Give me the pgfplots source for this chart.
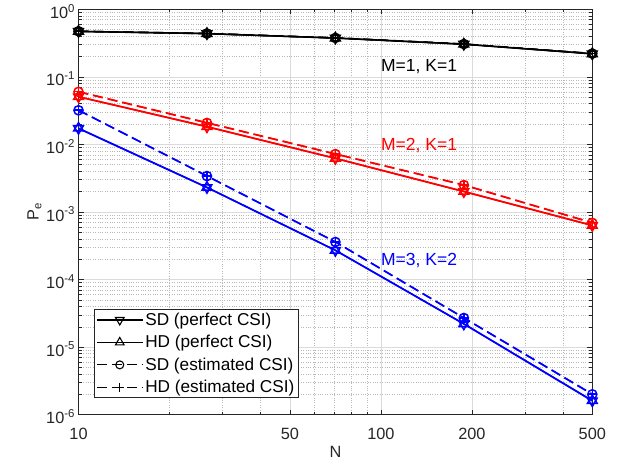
\documentclass[border=0pt]{standalone}
\usepackage{pgfplots}
\pgfplotsset{compat=1.18}
\usepackage{fontspec}
\setmainfont{Liberation Sans}
\definecolor{axgray}{HTML}{262626}
\definecolor{mblue}{RGB}{0,0,255}
\definecolor{mred}{RGB}{255,0,0}
\newcommand\ff{\fontsize{16.3bp}{19bp}\selectfont}
\newcommand\fl{\fontsize{17.2bp}{19bp}\selectfont}
\newcommand\fa{\fontsize{17.5bp}{20bp}\selectfont}

% N values (log-spaced)
\pgfplotstableread{
N       blkSDp blkHDp blkSDe blkHDe  redSDp redHDp redSDe redHDe  bluSDp bluHDp bluSDe bluHDe
10      0.470  0.472  0.473  0.474   0.0506 0.0510 0.0600 0.0605  0.0172 0.0174 0.0320 0.0322
26.59   0.436  0.437  0.438  0.439   0.0182 0.0184 0.0208 0.0210  0.00230 0.00232 0.00340 0.00342
70.71   0.375  0.376  0.377  0.378   0.00620 0.00625 0.00720 0.00725  0.000270 0.000272 0.000360 0.000362
188.03  0.304  0.305  0.306  0.307   0.00200 0.00202 0.00250 0.00252  0.0000220 0.0000222 0.0000270 0.0000272
500     0.219  0.220  0.221  0.222   0.000630 0.000635 0.000690 0.000695  0.00000160 0.00000162 0.00000200 0.00000202
}\data

\pgfplotsset{
  sdp/.style={solid, mark=triangle, mark size=5.6bp, mark options={solid, rotate=180}},
  hdp/.style={solid, mark=triangle, mark size=5.6bp, mark options={solid}},
  sde/.style={dash pattern=on 10bp off 5bp, mark=o, mark size=4.6bp, mark options={solid}},
  hde/.style={dash pattern=on 10bp off 5bp, mark=+, mark size=4.8bp, mark options={solid}},
}

\begin{document}
\begin{tikzpicture}
\begin{axis}[
  scale only axis,
  width=513.8bp, height=405.4bp,
  xmode=log, ymode=log,
  xmin=10, xmax=500, ymin=1e-6, ymax=1,
  xtick={10,50,100,200,500},
  xticklabels={10,50,100,200,500},
  minor xtick={20,30,40,60,70,80,90,300,400},
  ytick={1e-6,1e-5,1e-4,1e-3,1e-2,1e-1,1},
  yticklabels={10\textsuperscript{-6},10\textsuperscript{-5},10\textsuperscript{-4},10\textsuperscript{-3},10\textsuperscript{-2},10\textsuperscript{-1},10\textsuperscript{0}},
  minor ytick={2e-6,3e-6,4e-6,5e-6,6e-6,7e-6,8e-6,9e-6,
               2e-5,3e-5,4e-5,5e-5,6e-5,7e-5,8e-5,9e-5,
               2e-4,3e-4,4e-4,5e-4,6e-4,7e-4,8e-4,9e-4,
               2e-3,3e-3,4e-3,5e-3,6e-3,7e-3,8e-3,9e-3,
               2e-2,3e-2,4e-2,5e-2,6e-2,7e-2,8e-2,9e-2,
               0.2,0.3,0.4,0.5,0.6,0.7,0.8,0.9},
  grid=both,
  major grid style={draw=black!14, line width=0.7bp},
  minor grid style={draw=black!28, dotted, line width=0.6bp},
  axis line style={draw=axgray, line width=0.8bp},
  tick style={draw=axgray, line width=0.6bp},
  tick align=inside,
  major tick length=5bp,
  minor tick length=3bp,
  tick label style={font=\ff, text=axgray},
  xticklabel style={yshift=-10bp},
  yticklabel style={yshift=-2bp},
  xlabel={N}, ylabel={P\textsubscript{e}},
  label style={font=\ff, text=axgray},
  xlabel style={yshift=0bp},
  ylabel style={yshift=-2bp},
  every axis plot/.append style={line width=1.5bp},
  legend style={at={(rel axis cs:0.030,0.041)}, anchor=south west,
    font=\fl, draw=axgray, line width=0.6bp, fill=white,
    inner xsep=2bp, inner ysep=1.5bp, row sep=4.5bp,
    cells={anchor=west}},
  legend cell align=left,
  legend image code/.code={
    \draw[mark repeat=2,mark phase=2] plot coordinates {(0bp,0bp) (23bp,0bp) (46bp,0bp)};
  },
]
% black: M=1, K=1
\addplot[black, sdp, forget plot] table[x=N, y=blkSDp] {\data};
\addplot[black, hdp, forget plot] table[x=N, y=blkHDp] {\data};
\addplot[black, sde, forget plot] table[x=N, y=blkSDe] {\data};
\addplot[black, hde, forget plot] table[x=N, y=blkHDe] {\data};
% red: M=2, K=1
\addplot[mred, sdp, forget plot] table[x=N, y=redSDp] {\data};
\addplot[mred, hdp, forget plot] table[x=N, y=redHDp] {\data};
\addplot[mred, sde, forget plot] table[x=N, y=redSDe] {\data};
\addplot[mred, hde, forget plot] table[x=N, y=redHDe] {\data};
% blue: M=3, K=2
\addplot[mblue, sdp, forget plot] table[x=N, y=bluSDp] {\data};
\addplot[mblue, hdp, forget plot] table[x=N, y=bluHDp] {\data};
\addplot[mblue, sde, forget plot] table[x=N, y=bluSDe] {\data};
\addplot[mblue, hde, forget plot] table[x=N, y=bluHDe] {\data};

\addlegendimage{black, sdp, line width=1.1bp, mark size=5bp}
\addlegendentry{SD (perfect CSI)}
\addlegendimage{black, hdp, line width=1.1bp, mark size=5bp}
\addlegendentry{HD (perfect CSI)}
\addlegendimage{black, sde, line width=1.1bp, mark size=4bp}
\addlegendentry{SD (estimated CSI)}
\addlegendimage{black, hde, line width=1.1bp, mark size=4.4bp}
\addlegendentry{HD (estimated CSI)}

\node[anchor=west, font=\fa, text=black, inner sep=0pt] at (axis cs:100,0.142) {M=1, K=1};
\node[anchor=west, font=\fa, text=mred, inner sep=0pt] at (axis cs:100,0.0097) {M=2, K=1};
\node[anchor=west, font=\fa, text=mblue, inner sep=0pt] at (axis cs:100,0.00019) {M=3, K=2};
\end{axis}
\pgfresetboundingbox
\path[use as bounding box] ([xshift=-78.5bp,yshift=-52.3bp]current axis.south west) rectangle ([xshift=27.7bp,yshift=9.3bp]current axis.north east);
\end{tikzpicture}
\end{document}
